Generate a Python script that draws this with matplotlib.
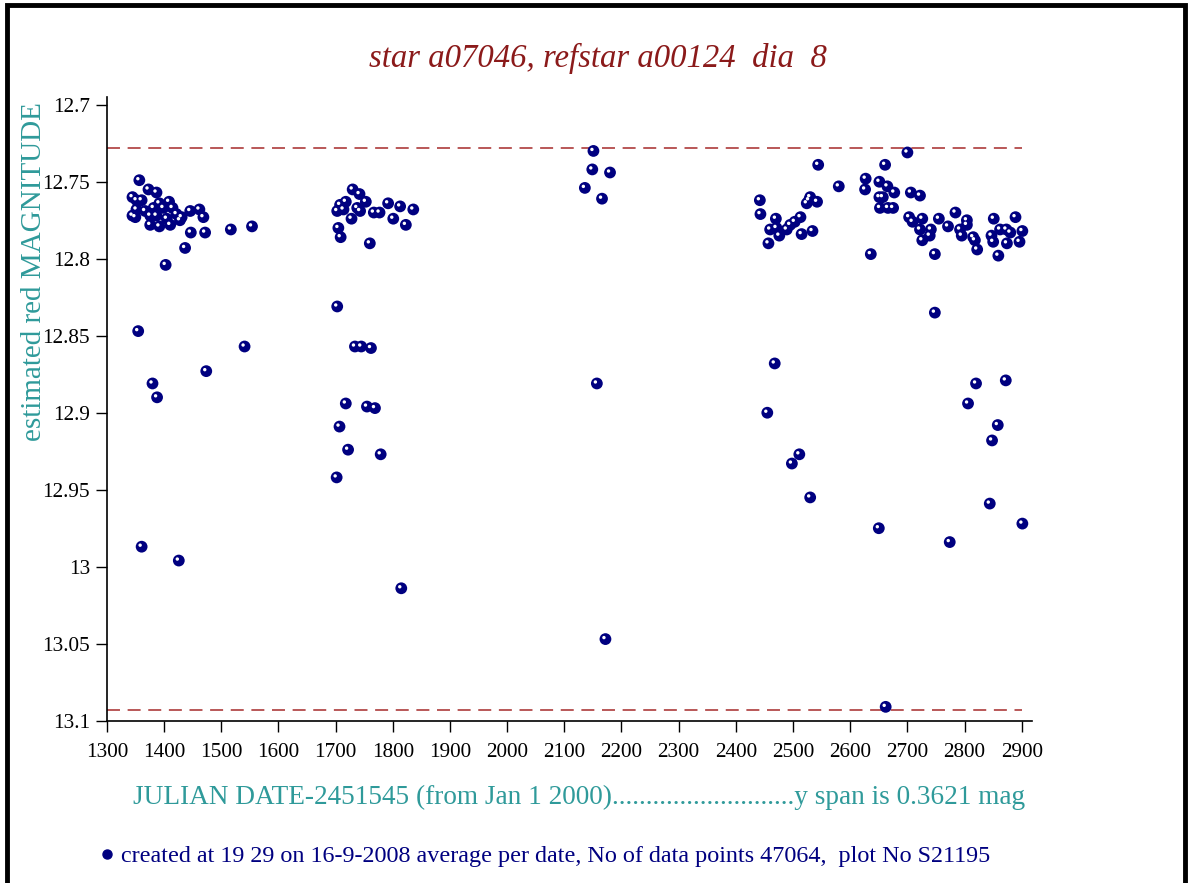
import matplotlib
matplotlib.use("Agg")
import matplotlib.pyplot as plt
import matplotlib.transforms as mtransforms
from matplotlib.patches import Rectangle
from matplotlib.lines import Line2D

plt.rcParams['font.family'] = ['Liberation Serif', 'DejaVu Serif']

# season 1
jd_1 = [1357, 1345, 1373, 1387, 1352, 1361, 1392, 1409, 1352, 1345, 1350, 1367,
        1382, 1399, 1415, 1376, 1387, 1405, 1422, 1431, 1446, 1462, 1469, 1376,
        1392, 1411, 1428, 1447, 1472, 1517, 1554, 1437, 1403, 1355, 1541, 1474,
        1380, 1388, 1361, 1426]
mag_1 = [12.749, 12.760, 12.755, 12.757, 12.762, 12.762, 12.764, 12.763, 12.768,
         12.772, 12.773, 12.769, 12.767, 12.767, 12.767, 12.772, 12.772, 12.774,
         12.771, 12.773, 12.769, 12.768, 12.773, 12.778, 12.779, 12.778, 12.775,
         12.783, 12.783, 12.781, 12.779, 12.793, 12.804, 12.847, 12.857, 12.873,
         12.881, 12.890, 12.987, 12.996]

# season 2
jd_2 = [1730, 1742, 1753, 1708, 1718, 1703, 1714, 1738, 1743, 1767, 1777, 1792,
        1813, 1836, 1728, 1801, 1823, 1705, 1709, 1760, 1703, 1734, 1745, 1762,
        1718, 1755, 1769, 1707, 1722, 1779, 1702, 1815]
mag_2 = [12.755, 12.758, 12.763, 12.765, 12.763, 12.769, 12.768, 12.767, 12.769,
         12.770, 12.770, 12.764, 12.766, 12.768, 12.774, 12.774, 12.778, 12.780,
         12.786, 12.790, 12.831, 12.857, 12.857, 12.858, 12.894, 12.896, 12.897,
         12.909, 12.924, 12.927, 12.942, 13.014]

# season 3
jd_3 = [2151, 2149, 2180, 2136, 2166, 2157, 2172]
mag_3 = [12.730, 12.742, 12.744, 12.754, 12.761, 12.881, 13.047]

# season 4
jd_4 = [2442, 2443, 2457, 2460, 2470, 2471, 2476, 2489, 2495, 2503, 2513, 2515,
        2524, 2528, 2530, 2534, 2542, 2544, 2580, 2626, 2627, 2636, 2651, 2651,
        2657, 2652, 2661, 2665, 2666, 2675, 2677, 2700, 2703, 2706, 2709, 2722,
        2722, 2726, 2726, 2739, 2741, 2748, 2755, 2771, 2784, 2792, 2795, 2804,
        2804, 2815, 2818, 2822, 2847, 2850, 2851, 2859, 2862, 2873, 2874, 2880,
        2889, 2896, 2901,
        2748, 2468, 2455, 2820, 2872, 2806, 2858, 2848, 2511, 2498, 2530, 2844,
        2901, 2650, 2774, 2662]
mag_4 = [12.762, 12.771, 12.790, 12.781, 12.774, 12.780, 12.785, 12.781, 12.778,
         12.776, 12.773, 12.784, 12.764, 12.762, 12.760, 12.782, 12.763, 12.739,
         12.753, 12.755, 12.748, 12.797, 12.750, 12.760, 12.760, 12.767, 12.739,
         12.753, 12.767, 12.767, 12.757, 12.731, 12.773, 12.757, 12.776, 12.759,
         12.781, 12.774, 12.788, 12.785, 12.781, 12.797, 12.774, 12.779, 12.770,
         12.781, 12.785, 12.775, 12.778, 12.786, 12.788, 12.794, 12.785, 12.789,
         12.774, 12.798, 12.781, 12.781, 12.790, 12.783, 12.773, 12.789, 12.782,
         12.835, 12.868, 12.900, 12.881, 12.879, 12.894, 12.908, 12.918, 12.927,
         12.933, 12.955, 12.959, 12.972, 12.975, 12.984, 13.091]

jd = jd_1 + jd_2 + jd_3 + jd_4
mag = mag_1 + mag_2 + mag_3 + mag_4

# dashed limit lines
mag_min = 12.7283
mag_max = 13.093

title = "star a07046, refstar a00124  dia  8"
xlabel = "JULIAN DATE-2451545 (from Jan 1 2000)" + "." * 27 + "y span is 0.3621 mag"
ylabel = "estimated red MAGNITUDE"
footer = "created at 19 29 on 16-9-2008 average per date, No of data points 47064,  plot No S21195"

navy = "#000080"
teal = "#2f9a9a"
darkred = "#8b1a1a"
dash_red = "#a52a2a"

fig = plt.figure(figsize=(11.9, 8.83), dpi=100)
ax = fig.add_axes([0.0897, 0.1838, 0.7776, 0.7063])

ax.hlines([mag_min, mag_max], 1300, 2900, colors=dash_red, linewidth=1.1,
          linestyles=(0, (8.5, 5)), zorder=1)

ax.scatter(jd, mag, s=72, color=navy, edgecolors='none', zorder=3)
hl = mtransforms.offset_copy(ax.transData, fig=fig, x=-1.5, y=1.5, units='dots')
ax.scatter(jd, mag, s=6, color='white', edgecolors='none', transform=hl, zorder=4)

ax.set_xlim(1300, 2918)
ax.set_ylim(13.1, 12.695)
ax.set_xticks(range(1300, 3000, 100))
ax.set_yticks([12.7, 12.75, 12.8, 12.85, 12.9, 12.95, 13.0, 13.05, 13.1])
ax.set_yticklabels(['%g' % v for v in ax.get_yticks()])

for s in ['top', 'right']:
    ax.spines[s].set_visible(False)
for s in ['left', 'bottom']:
    ax.spines[s].set_linewidth(1.2)
ax.tick_params(direction='out', length=8, width=1, labelsize=15.3, pad=4)
ax.tick_params(axis='x', pad=8)

fig.text(0.5025, 0.934, title, color=darkred, fontsize=23.6, style='italic',
         ha='center', va='center')
fig.text(0.0285, 0.692, ylabel, color=teal, fontsize=21, rotation=90,
         ha='center', va='center')
fig.text(0.487, 0.0965, xlabel, color=teal, fontsize=19.6, ha='center', va='center')

handle = Line2D([], [], marker='o', linestyle='none', color=navy, markersize=6.5)
fig.legend([handle], [footer], loc='center left', bbox_to_anchor=(0.0838, 0.0305),
           frameon=False, fontsize=17.4, labelcolor=navy, handlelength=0.6,
           handletextpad=0.28, borderpad=0, borderaxespad=0)

fig.patches.append(Rectangle((0.0059, -0.05), 0.9899, 1.0443, transform=fig.transFigure,
                             fill=False, edgecolor='black', linewidth=3.5))

fig.savefig("out.png", dpi=100)
